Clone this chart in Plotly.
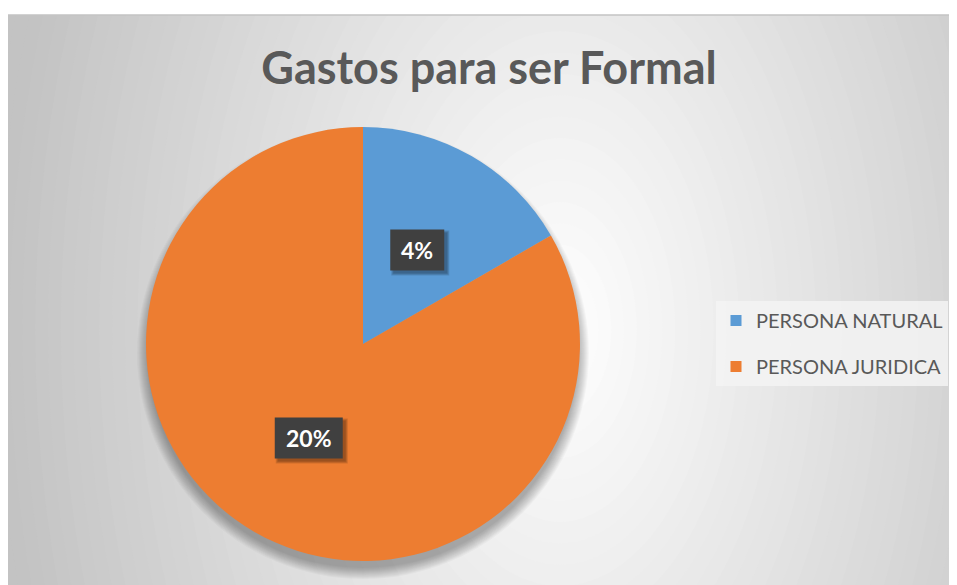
import math
import plotly.graph_objects as go

# ---- data ----
categories = ["PERSONA NATURAL", "PERSONA JURIDICA"]
values = [4, 20]
value_labels = ["4%", "20%"]
colors = ["#5B9BD5", "#ED7D31"]
title_text = "Gastos para ser Formal"

W, H = 957, 585
OFF = 8  # page body margin offset

def px(x):
    return (x - OFF) / W

def py(y):
    return 1 - (y - OFF) / H

# chart area (pixels)
AX0, AY0, AX1, AY1 = 7, 15, 970, 600
# pie geometry (pixels)
CX, CY, R = 363, 344, 217

shapes = []
# radial gradient background
gcx, gcy = 560, 330
k = 0.6
dmax = 640
steps = 50
for i in range(steps, 0, -1):
    d = dmax * i / steps
    g = 255 - 60 * min(1.0, (d / 560))
    g = int(round(max(192, g)))
    rx = d
    ry = d / k
    shapes.append(dict(type="circle", xref="paper", yref="paper", layer="below",
                       x0=px(gcx - rx), x1=px(gcx + rx), y0=py(gcy + ry), y1=py(gcy - ry),
                       fillcolor=f"rgb({g},{g},{g})", line=dict(width=0)))
# white outside chart area
shapes.append(dict(type="rect", xref="paper", yref="paper", layer="below",
                   x0=-0.1, x1=1.1, y0=py(AY0), y1=1.2, fillcolor="white", line=dict(width=0)))
shapes.append(dict(type="rect", xref="paper", yref="paper", layer="below",
                   x0=-0.1, x1=px(AX0), y0=-0.2, y1=1.2, fillcolor="white", line=dict(width=0)))
# border
shapes.append(dict(type="rect", xref="paper", yref="paper", layer="below",
                   x0=px(AX0), x1=px(AX1), y0=py(AY1), y1=py(AY0),
                   fillcolor="rgba(0,0,0,0)", line=dict(color="#c4c4c4", width=1.5)))
# soft shadow of pie
for j in range(12, 0, -1):
    rr = R - 3 + j
    shapes.append(dict(type="circle", xref="paper", yref="paper", layer="below",
                       x0=px(CX - rr), x1=px(CX + rr), y0=py(CY + 9 + rr), y1=py(CY + 9 - rr),
                       fillcolor="rgba(0,0,0,0.028)", line=dict(width=0)))

fig = go.Figure()
fig.add_trace(go.Pie(
    labels=categories, values=values, sort=False, direction="clockwise", rotation=0,
    marker=dict(colors=colors, line=dict(width=0)),
    textinfo="none", hoverinfo="label+value",
    domain=dict(x=[px(CX - R), px(CX + R)], y=[py(CY + R), py(CY - R)]),
    showlegend=False,
))
# legend entries (one per category, same colours as the slices)
for i, (name, c) in enumerate(zip(categories, colors)):
    fig.add_trace(go.Scatter(x=[None], y=[None], mode="markers", name=name,
                             legendgroup=f"g{i}",
                             marker=dict(symbol="square", size=11, color=c)))

# data labels placed at middle angle of each slice, half radius
annotations = []
total = sum(values)
cum = 0
for v, lab in zip(values, value_labels):
    mid = (cum + v / 2) / total * 2 * math.pi
    cum += v
    lx = CX + 0.5 * R * math.sin(mid)
    ly = CY - 0.5 * R * math.cos(mid)
    bw = 26 + 14 * len(lab)
    bh = 41
    # box shadow
    for s in range(3):
        shapes.append(dict(type="rect", xref="paper", yref="paper", layer="above",
                           x0=px(lx - bw / 2 + 3 - s), x1=px(lx + bw / 2 + 3 + s),
                           y0=py(ly + bh / 2 + 3 + s), y1=py(ly - bh / 2 + 3 - s),
                           fillcolor="rgba(0,0,0,0.13)", line=dict(width=0)))
    shapes.append(dict(type="rect", xref="paper", yref="paper", layer="above",
                       x0=px(lx - bw / 2), x1=px(lx + bw / 2),
                       y0=py(ly + bh / 2), y1=py(ly - bh / 2),
                       fillcolor="#404040", line=dict(width=0)))
    annotations.append(dict(x=px(lx), y=py(ly), xref="paper", yref="paper", text=f"<b>{lab}</b>",
                            showarrow=False, xanchor="center", yanchor="middle",
                            font=dict(family="Lato", size=23, color="white")))

fig.update_layout(
    width=W, height=H,
    margin=dict(l=0, r=0, t=0, b=0),
    paper_bgcolor="white",
    plot_bgcolor="rgba(0,0,0,0)",
    xaxis=dict(visible=False),
    yaxis=dict(visible=False),
    title=dict(text=f"<b>{title_text}</b>", x=px(489), xanchor="center", y=py(68), yanchor="middle",
               font=dict(family="Lato", size=45, color="#595959")),
    legend=dict(x=px(716), y=py(301), xanchor="left", yanchor="top",
                bgcolor="rgba(243,243,243,0.85)", borderwidth=0,
                font=dict(family="Lato", size=20, color="#595959"),
                tracegroupgap=17, itemclick=False, itemdoubleclick=False),
    shapes=shapes,
    annotations=annotations,
)

fig.write_html("out.html")
